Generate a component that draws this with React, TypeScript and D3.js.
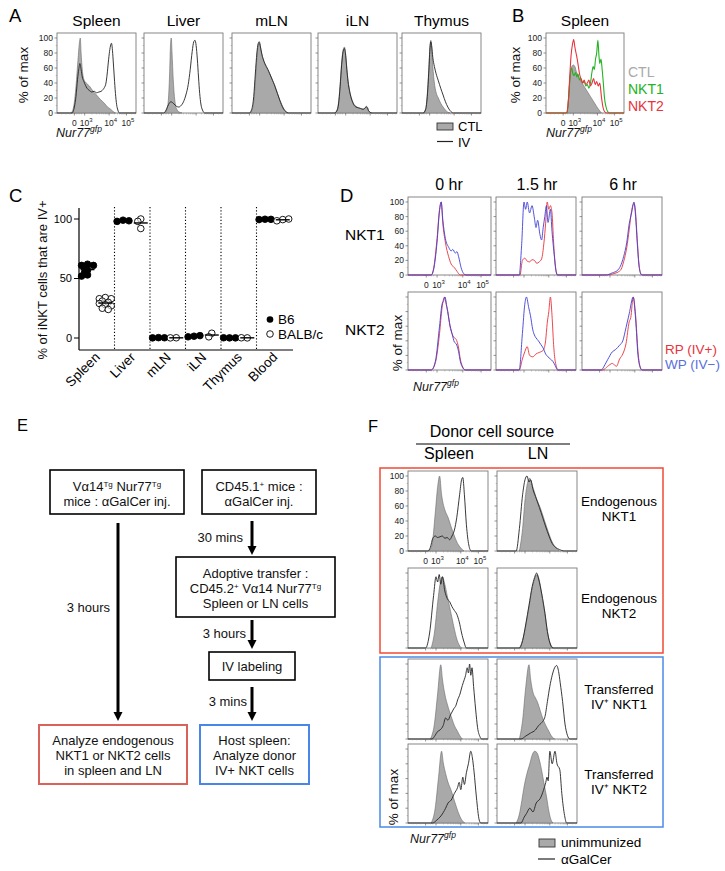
import React from 'react';
import * as d3 from 'd3';

type Pt = [number, number];
const FONT = "'Liberation Sans', Arial, Helvetica, sans-serif";

// ---------------- Panel A data (x: % of axis width, y: % of max) ----------------
const A_TISSUES = ['Spleen', 'Liver', 'mLN', 'iLN', 'Thymus'];
const A_CTL_SPLEEN: Pt[] = [[18,0],[21,8],[24,35],[26.5,70],[28.5,95],[29.5,100],[30.5,80],[32,58],[34,45],[37,40],[41,36],[45,30],[50,24],[55,18],[60,13],[64,8],[68,5],[71,2],[74,0]];
const A_IV_SPLEEN: Pt[] = [[19,0],[22,8],[24,22],[26,45],[27.5,58],[29,66],[30.5,58],[32,48],[34,42],[36,37],[38,33],[41,30],[44,28],[47,29],[50,27],[53,28],[56,29],[58,31],[60,34],[62,40],[63.5,52],[65,68],[66.5,82],[68,91],[69,93],[70,86],[71,72],[72.5,48],[74,26],[75.5,11],[77,4],[79,0]];
const A_CTL_LIVER: Pt[] = [[26,0],[29,5],[31,20],[32.5,55],[33.5,90],[34.5,100],[35.5,80],[37,45],[38.5,22],[40,10],[42,4],[45,1],[48,0]];
const A_IV_LIVER: Pt[] = [[25,0],[28,4],[30,9],[32,13],[34,15],[36,14],[38,12],[41,9],[44,8],[47,10],[50,15],[53,24],[56,38],[58.5,58],[61,82],[63,95],[64.5,97],[66,90],[67.5,72],[69,48],[70.5,26],[72,12],[74,4],[77,0]];
const A_CTL_MLN: Pt[] = [[23,0],[26,6],[28,20],[30,50],[32,80],[33.5,92],[35,93],[36.5,85],[38,76],[40,70],[42,65],[44,60],[46,56],[48,52],[50,47],[52,42],[54,37],[56,31],[58,25],[60,19],[62,14],[64,9],[66,5],[68,2],[71,0]];
const A_IV_MLN: Pt[] = [[22,0],[25,5],[27.5,22],[29.5,52],[31.5,80],[33,92],[34.5,95],[36,88],[37.5,80],[39.5,72],[41.5,66],[43.5,62],[45.5,58],[47.5,53],[49.5,48],[51.5,43],[53.5,38],[55.5,32],[57.5,26],[59.5,20],[61.5,14],[63.5,9],[65.5,5],[68,2],[72,0]];
const A_CTL_ILN: Pt[] = [[21,0],[24,4],[26,14],[28,38],[30,68],[32,85],[33.5,88],[35,78],[36.5,60],[38,44],[40,30],[42,21],[44,15],[46,11],[48,9],[51,7],[54,6],[57,5],[59,6],[61,9],[62.5,8],[64,3],[66,1],[68,0]];
const A_IV_ILN: Pt[] = [[21,0],[24,3],[26,12],[28,35],[30,65],[32,83],[33.5,86],[35,77],[36.5,58],[38,42],[40,29],[42,20],[44,14],[46,10],[48,8],[51,7],[54,6],[57,5],[59,6],[61,8],[62.5,7],[64,3],[66,1],[68,0]];
const A_CTL_THY: Pt[] = [[27,0],[30,6],[32,25],[34,60],[35.5,90],[36.5,97],[37.5,88],[39,62],[41,40],[43,28],[46,20],[49,13],[52,8],[55,4],[58,1],[61,0]];
const A_IV_THY: Pt[] = [[27,0],[30,5],[32,22],[34,57],[35.5,88],[36.5,95],[37.5,90],[39,74],[41,62],[43,53],[46,43],[49,33],[52,24],[55,15],[58,8],[61,3],[65,0]];
const A_CTL = [A_CTL_SPLEEN, A_CTL_LIVER, A_CTL_MLN, A_CTL_ILN, A_CTL_THY];
const A_IV = [A_IV_SPLEEN, A_IV_LIVER, A_IV_MLN, A_IV_ILN, A_IV_THY];

// ---------------- Panel B data ----------------
const B_CTL: Pt[] = [[27,0],[29,20],[31,50],[33,62],[35,64],[37,62],[39,55],[42,48],[45,42],[48,37],[51,32],[54,27],[57,22],[60,17],[63,12],[66,7],[68,4],[71,0]];
const B_NKT1: Pt[] = [[27,0],[29,20],[31,50],[33,60],[34.5,52],[36,50],[38,54],[39.5,48],[41,52],[43,44],[45,46],[47,40],[49,42],[51,36],[53,38],[55,33],[57,40],[59,55],[60.5,62],[62,58],[63.5,72],[65,80],[66.5,97],[68,75],[69,66],[70.5,72],[72,58],[73.5,40],[75,20],[77,8],[79,2],[82,0]];
const B_NKT2: Pt[] = [[26,0],[28,8],[30,40],[32,75],[34,92],[35.5,98],[37,88],[38.5,80],[40,72],[41.5,62],[43,52],[45,45],[47,40],[49,44],[51,38],[53,40],[55,44],[57,36],[59,40],[61,46],[63,38],[65,42],[67,36],[69,40],[71,22],[73,8],[75,2],[78,0]];
const B_LEGEND = ['CTL', 'NKT1', 'NKT2'];

// ---------------- Panel C data ----------------
const C_TISSUES = ['Spleen', 'Liver', 'mLN', 'iLN', 'Thymus', 'Blood'];
const C_B6: number[][] = [
  [62, 61, 61, 59, 57, 55, 53, 52],
  [99, 98, 98.5],
  [0.3, 0.1, 0.2],
  [1.5, 1, 2],
  [0.1, 0.2, 0.1],
  [99.8, 99.5, 99.7],
];
const C_BALB: number[][] = [
  [34, 33, 33, 31, 30, 29, 28, 27, 25, 24],
  [100, 98, 92],
  [0.2, 0.1],
  [4, 1],
  [0.1, 0.2],
  [99.5, 98.5, 100],
];
const C_YTICKS = [0, 50, 100];

// ---------------- Panel D data ----------------
const D_TIMES = ['0 hr', '1.5 hr', '6 hr'];
const D_ROWS = ['NKT1', 'NKT2'];
const D_RP: Pt[][][] = [
  [
    [[28,0],[31,10],[35,50],[38,90],[40,100],[42,70],[45,45],[49,25],[52,15],[56,10],[59,5],[63,0]],
    [[30,0],[33,20],[36,23],[39,19],[42,18],[45,21],[48,20],[51,16],[54,18],[57,22],[60,45],[62,70],[64,100],[66,90],[68,95],[70,85],[72,45],[74,15],[77,0]],
    [[32,0],[40,2],[45,4],[49,8],[52,18],[56,38],[59,62],[62,88],[65,98],[67,85],[69,50],[71,18],[73,3],[75,0]],
  ],
  [
    [[28,0],[33,10],[38,50],[41,85],[44,100],[46,90],[48,80],[50.5,60],[53,50],[55,45],[58,42],[61,30],[63,15],[66,4],[69,0]],
    [[29,0],[33,15],[36,25],[39,32],[42,20],[46,18],[50,22],[54,24],[59,27],[62,40],[64,64],[66,80],[68,100],[70,75],[72,35],[74,12],[78,0]],
    [[26,0],[32,5],[38,9],[43,5],[47,15],[51,22],[55,36],[59,66],[61,72],[64,100],[67,75],[70,25],[73,3],[75,0]],
  ],
];
const D_WP: Pt[][][] = [
  [
    [[28,0],[31,8],[35,45],[38,88],[40,100],[42,75],[45,50],[49,38],[52,33],[54,35],[57,30],[59,32],[61,25],[64,10],[67,2],[70,0]],
    [[29,0],[32,40],[35,100],[37,90],[39,100],[42,85],[45,95],[48,78],[50,65],[52,75],[55,55],[57,48],[59,65],[61,80],[63,95],[65,72],[68,90],[70,60],[73,25],[75,5],[77,0]],
    [[30,0],[38,3],[44,6],[48,12],[52,25],[56,45],[59,70],[62,85],[65,100],[67,80],[69,45],[71,15],[73,3],[75,0]],
  ],
  [
    [[28,0],[33,12],[38,60],[41,90],[43,95],[44.5,100],[47,85],[50,65],[53,50],[56,38],[58,36],[61,25],[63,12],[66,3],[69,0]],
    [[29,0],[33,50],[36,90],[38,100],[41,85],[43,75],[46,55],[48,48],[50,44],[53,40],[56,35],[59,30],[62,22],[65,18],[68,15],[71,12],[74,6],[77,0]],
    [[24,0],[29,8],[32,14],[38,25],[42,28],[47,34],[51,40],[55,58],[59,77],[64,100],[67,70],[70,20],[73,3],[75,0]],
  ],
];
const D_LEGEND = ['RP (IV+)', 'WP (IV\u2212)'];

// ---------------- Panel F data ----------------
const F_COLS = ['Spleen', 'LN'];
const F_ROWS = [['Endogenous', 'NKT1'], ['Endogenous', 'NKT2'], ['Transferred', 'IV\u207A NKT1'], ['Transferred', 'IV\u207A NKT2']];
const F_UNIMM: Pt[][][] = [
  [
    [[26,0],[30,8],[34,50],[37,85],[39.5,100],[42,75],[46,55],[50,45],[54,32],[58,20],[62,10],[66,4],[70,0]],
    [[28,0],[32,30],[35,68],[38,90],[41,97],[44,88],[47,78],[50,68],[54,58],[59,42],[64,26],[69,12],[74,4],[78,0]],
  ],
  [
    [[29,0],[33,20],[37,60],[40,85],[43,95],[46,85],[49,70],[52,55],[55,40],[58,25],[61,12],[64,4],[67,0]],
    [[28,0],[32,10],[36,30],[40,55],[44,80],[48,95],[50,98],[53,90],[56,70],[60,45],[63,22],[66,8],[70,0]],
  ],
  [
    [[28,0],[33,20],[37,60],[41,99],[43,80],[46,60],[49.5,45],[54,30],[58,18],[62,10],[65,4],[68,0]],
    [[28,0],[32,25],[36,70],[40,99],[42,80],[45,62],[48,55],[51,48],[54,38],[57,28],[61,18],[65,10],[68,4],[72,0]],
  ],
  [
    [[29,0],[34,20],[38,60],[42,97],[44,82],[47,67],[50,55],[54,44],[58,30],[61,20],[64,11],[68,3],[71,0]],
    [[24,0],[28,12],[31,30],[34,50],[37,65],[41,80],[44,92],[47,97],[50,95],[53,85],[56,70],[58.5,55],[62,35],[65,15],[68,3],[70,0]],
  ],
];
const F_AGAL: Pt[][][] = [
  [
    [[25,0],[28,5],[31,17],[34,20],[37,18],[40,19],[43,20],[46,17],[49,18],[52,15],[55,20],[58,28],[61,45],[64.5,75],[67,95],[68.5,98],[70.5,75],[73,35],[76,8],[79,0]],
    [[24,0],[28,30],[32,75],[35,95],[37.5,100],[40,92],[42,95],[45,82],[49,70],[53,58],[57,45],[61,32],[65,20],[69,10],[73,5],[78,2],[84,0]],
  ],
  [
    [[22,0],[27,20],[32,70],[35,95],[37,88],[39,98],[41,85],[43,95],[46,76],[49,66],[52,62],[55,55],[58,50],[61,45],[64,35],[67,20],[70,8],[73,0]],
    [[28,0],[32,10],[36,32],[40,57],[44,82],[47,94],[49.5,100],[52,92],[56,72],[60,46],[63,22],[66,7],[70,0]],
  ],
  [
    [[30,0],[34,5],[37,10],[40,12],[44,18],[47,28],[50,25],[53,32],[55,36],[57,40],[60,45],[62,52],[65,60],[67,68],[69,75],[72,85],[74,95],[75.5,88],[77,100],[78.5,85],[80,95],[82,70],[84.5,40],[87,15],[90,3],[92,0]],
    [[30,0],[36,4],[42,8],[48,12],[52,18],[56,22],[60,30],[63,50],[66,70],[69,85],[72,95],[74.5,98],[77,90],[79,75],[82,50],[85,20],[88,5],[91,0]],
  ],
  [
    [[31,0],[36,4],[40,8],[44,14],[47,20],[50,27],[54,31],[58,40],[62,48],[64,55],[66,45],[68.5,62],[70.5,52],[73,68],[75.5,80],[78.5,97],[80.5,88],[82.5,70],[85.5,35],[89,4],[91,0]],
    [[30,0],[34,8],[37,13],[41,20],[45,15],[49,27],[54,33],[58,44],[61,55],[62.5,62],[64,57],[66,97],[69,80],[72.5,97],[75,80],[78.5,72],[81,40],[84.5,10],[87,0]],
  ],
];

// ---------------- axis definition for flow histograms ----------------
const X_TICKS = [22, 35, 66, 88];
const X_TICK_EXP = ['', '3', '4', '5'];
const Y_TICKS = [0, 20, 40, 60, 80, 100];

type Curve = { pts: Pt[]; kind: 'fill' | 'line'; color: string; sw?: number };

function minorXTicks(): number[] {
  const out: number[] = [6, 11, 16, 25, 28, 31];
  for (let k = 2; k <= 9; k++) out.push(35 + 31 * Math.log10(k));
  for (let k = 2; k <= 9; k++) out.push(66 + 22 * Math.log10(k));
  for (let k = 2; k <= 3; k++) out.push(88 + 22 * Math.log10(k));
  return out;
}
const X_MINOR = minorXTicks();

function Histo(props: { x: number; y: number; w: number; h: number; curves: Curve[]; yLabels?: boolean; xLabels?: boolean }) {
  const { x, y, w, h, curves, yLabels, xLabels } = props;
  const sx = d3.scaleLinear().domain([0, 100]).range([x, x + w]);
  const sy = d3.scaleLinear().domain([0, 100]).range([y + h, y + 5]);
  const area = d3.area<Pt>().x(d => sx(d[0])).y0(sy(0)).y1(d => sy(d[1])).curve(d3.curveMonotoneX);
  const line = d3.line<Pt>().x(d => sx(d[0])).y(d => sy(d[1])).curve(d3.curveMonotoneX);
  return (
    <g>
      <rect x={x} y={y} width={w} height={h} fill="white" stroke="#7a7a7a" strokeWidth={0.9} />
      {curves.map((c, i) =>
        c.kind === 'fill' ? (
          <path key={i} d={area(c.pts) || ''} fill={c.color} stroke="#6a6a6a" strokeWidth={0.6} />
        ) : (
          <path key={i} d={line([[0, 0], ...c.pts, [100, 0]]) || ''} fill="none" stroke={c.color} strokeWidth={c.sw ?? 0.9} strokeLinejoin="round" />
        )
      )}
      {Y_TICKS.map(t => (
        <line key={'yt' + t} x1={x - 2.5} x2={x} y1={sy(t)} y2={sy(t)} stroke="#666" strokeWidth={0.7} />
      ))}
      {d3.range(10, 100, 20).map(t => (
        <line key={'ym' + t} x1={x - 1.3} x2={x} y1={sy(t)} y2={sy(t)} stroke="#888" strokeWidth={0.5} />
      ))}
      {X_TICKS.map(t => (
        <line key={'xt' + t} x1={sx(t)} x2={sx(t)} y1={y + h} y2={y + h + 2.5} stroke="#666" strokeWidth={0.7} />
      ))}
      {X_MINOR.map((t, i) => (
        <line key={'xm' + i} x1={sx(t)} x2={sx(t)} y1={y + h} y2={y + h + 1.4} stroke="#888" strokeWidth={0.5} />
      ))}
      {yLabels &&
        Y_TICKS.map(t => (
          <text key={'yl' + t} x={x - 4} y={sy(t) + 3} fontSize={8.5} textAnchor="end" fill="#222">
            {t}
          </text>
        ))}
      {xLabels &&
        X_TICKS.map((t, i) => (
          <text key={'xl' + t} x={sx(t) + (i ? 1.5 : 0)} y={y + h + 12.5} fontSize={8.5} textAnchor="middle" fill="#222">
            {i === 0 ? '0' : '10'}
            {X_TICK_EXP[i] && (
              <tspan dy={-4} fontSize={6}>
                {X_TICK_EXP[i]}
              </tspan>
            )}
          </text>
        ))}
    </g>
  );
}

function Nur77(props: { x: number; y: number }) {
  return (
    <text x={props.x} y={props.y} fontSize={12.5} fontStyle="italic" fill="#111">
      Nur77
      <tspan dy={-5} fontSize={8.5}>gfp</tspan>
    </text>
  );
}

function YLab(props: { x: number; y: number; text: string; size?: number }) {
  return (
    <text transform={`translate(${props.x},${props.y}) rotate(-90)`} textAnchor="middle" fontSize={props.size ?? 13.5} fill="#111">
      {props.text}
    </text>
  );
}

function PanelLetter(props: { x: number; y: number; t: string; size?: number }) {
  return (
    <text x={props.x} y={props.y} fontSize={props.size ?? 18.5} fill="#000">
      {props.t}
    </text>
  );
}

// ---------------- Panel C ----------------
function swarm(vals: number[], sy: (v: number) => number, r: number) {
  const placed: { y: number; dx: number }[] = [];
  const cands = [0, -1, 1, -2, 2, -3, 3].map(k => k * r * 0.9);
  return vals.map(v => {
    const py = sy(v);
    let chosen = cands[cands.length - 1];
    for (const c of cands) {
      if (placed.every(p => Math.hypot(p.dx - c, p.y - py) >= r * 1.1)) {
        chosen = c;
        break;
      }
    }
    placed.push({ y: py, dx: chosen });
    return { v, dx: chosen };
  });
}

function PanelC() {
  const sy = d3.scaleLinear().domain([0, 100]).range([338, 219]);
  const sx = d3.scaleBand<string>().domain(C_TISSUES).range([79, 292]).padding(0);
  const bw = sx.bandwidth();
  const r = 3.3;
  const groups = (data: number[][], frac: number, filled: boolean) =>
    data.map((vals, i) => {
      const cx = (sx(C_TISSUES[i]) as number) + bw * frac;
      const mean = d3.mean(vals) as number;
      return (
        <g key={(filled ? 'f' : 'o') + i}>
          {swarm(vals, sy, r).map((p, j) => (
            <circle key={j} cx={cx + p.dx} cy={sy(p.v)} r={r} fill={filled ? '#000' : 'white'} fillOpacity={filled ? 1 : 0.6} stroke="#000" strokeWidth={0.9} />
          ))}
          <line x1={cx - 7} x2={cx + 7} y1={sy(mean)} y2={sy(mean)} stroke="#000" strokeWidth={1.4} />
        </g>
      );
    });
  return (
    <g>
      {C_TISSUES.slice(1).map(t => (
        <line key={'d' + t} x1={sx(t) as number} x2={sx(t) as number} y1={207} y2={350} stroke="#000" strokeWidth={1.1} strokeDasharray="1.2,2" />
      ))}
      <line x1={79} x2={79} y1={208} y2={350} stroke="#000" strokeWidth={1.2} />
      <line x1={79} x2={293} y1={350} y2={350} stroke="#000" strokeWidth={1.2} />
      {C_YTICKS.map(t => (
        <g key={'ct' + t}>
          <line x1={74} x2={79} y1={sy(t)} y2={sy(t)} stroke="#000" strokeWidth={1} />
          <text x={72} y={sy(t) + 3.8} fontSize={11} textAnchor="end">
            {t}
          </text>
        </g>
      ))}
      {groups(C_B6, 0.24, true)}
      {groups(C_BALB, 0.74, false)}
      {C_TISSUES.map(t => {
        const lx = (sx(t) as number) + bw / 2 + 4;
        const ly = 358;
        return (
          <g key={'cl' + t} transform={`translate(${lx} ${ly}) rotate(-45)`}>
            <text x={0} y={0} textAnchor="end" fontSize={13.5}>
              {t}
            </text>
          </g>
        );
      })}
      <YLab x={47} y={280} text="% of iNKT cells that are IV+" size={13} />
      <circle cx={270} cy={319.5} r={r} fill="#000" />
      <text x={278} y={324} fontSize={13.5}>B6</text>
      <circle cx={270} cy={334} r={r} fill="white" stroke="#000" strokeWidth={0.9} />
      <text x={278} y={338.5} fontSize={13.5}>BALB/c</text>
    </g>
  );
}

// ---------------- Panel E ----------------
function Arrow(props: { x: number; y1: number; y2: number }) {
  const { x, y1, y2 } = props;
  return (
    <g>
      <line x1={x} x2={x} y1={y1} y2={y2 - 8} stroke="#000" strokeWidth={3} />
      <path d={`M${x - 4.5},${y2 - 9} L${x + 4.5},${y2 - 9} L${x},${y2} Z`} fill="#000" />
    </g>
  );
}

function Sup(props: { t: string }) {
  return (
    <tspan dy={-4.5} fontSize={8}>
      {props.t}
    </tspan>
  );
}

function PanelE() {
  const fs = 13;
  return (
    <g fontSize={fs} fill="#111">
      <PanelLetter x={17} y={431} t="E" size={16.5} />
      <rect x={50} y={470} width={134} height={44} fill="white" stroke="#000" strokeWidth={1.6} />
      <text x={117} y={491} textAnchor="middle">
        {'V\u03B114'}<Sup t="Tg" /><tspan dy={4.5}> Nur77</tspan><Sup t="Tg" />
      </text>
      <text x={117} y={506} textAnchor="middle">{'mice : \u03B1GalCer inj.'}</text>
      <rect x={202} y={470} width={114} height={44} fill="white" stroke="#000" strokeWidth={1.6} />
      <text x={259} y={491} textAnchor="middle">
        CD45.1<Sup t="+" /><tspan dy={4.5}> mice :</tspan>
      </text>
      <text x={259} y={506} textAnchor="middle">{'\u03B1GalCer inj.'}</text>
      <Arrow x={118} y1={523} y2={721} />
      <text x={110} y={612} textAnchor="end">3 hours</text>
      <Arrow x={252} y1={521} y2={555} />
      <text x={243} y={542} textAnchor="end">30 mins</text>
      <rect x={176} y={557} width={159} height={60} fill="white" stroke="#000" strokeWidth={1.6} />
      <text x={255.5} y={578} textAnchor="middle">Adoptive transfer :</text>
      <text x={255.5} y={593} textAnchor="middle">
        CD45.2<Sup t="+" /><tspan dy={4.5}>{' V\u03B114 Nur77'}</tspan><Sup t="Tg" />
      </text>
      <text x={255.5} y={608} textAnchor="middle">Spleen or LN cells</text>
      <Arrow x={252} y1={620} y2={649} />
      <text x={246} y={638} textAnchor="end">3 hours</text>
      <rect x={209} y={652} width={86} height={28} fill="white" stroke="#000" strokeWidth={1.6} />
      <text x={252} y={671} textAnchor="middle">IV labeling</text>
      <Arrow x={252} y1={687} y2={721} />
      <text x={247} y={706} textAnchor="end">3 mins</text>
      <rect x={39} y={725} width={148} height={59} fill="white" stroke="#d9625a" strokeWidth={2} />
      <text x={113} y={745} textAnchor="middle">Analyze endogenous</text>
      <text x={113} y={760} textAnchor="middle">NKT1 or NKT2 cells</text>
      <text x={113} y={775} textAnchor="middle">in spleen and LN</text>
      <rect x={200} y={725} width={109} height={59} fill="white" stroke="#4a86e8" strokeWidth={2} />
      <text x={254.5} y={745} textAnchor="middle">Host spleen:</text>
      <text x={254.5} y={760} textAnchor="middle">Analyze donor</text>
      <text x={254.5} y={775} textAnchor="middle">IV+ NKT cells</text>
    </g>
  );
}

// ---------------- App ----------------
export default function App() {
  const aLefts = [57, 144, 232, 318, 402];
  const aW = 79;
  const dLefts = [408, 496, 582];
  const dTops = [197, 292];
  const fLefts = [408, 497];
  const fTops = [471, 568, 659, 744];
  const GREY = '#a9a9a9';
  const RED = '#e8333b';
  const BLUE = '#3f3fd6';
  const GREEN = '#21b321';
  return (
    <svg width={725} height={871} style={{ position: 'absolute', left: 0, top: 0, background: 'white' }} fontFamily={FONT}>
      <rect x={0} y={0} width={725} height={871} fill="white" />
      {/* Panel A */}
      <PanelLetter x={9} y={22} t="A" />
      {A_TISSUES.map((t, i) => (
        <g key={'a' + t}>
          <text x={aLefts[i] + aW / 2} y={26} textAnchor="middle" fontSize={15.5}>
            {t}
          </text>
          <Histo
            x={aLefts[i]}
            y={33}
            w={aW}
            h={80}
            yLabels={i === 0}
            xLabels={i === 0}
            curves={[
              { pts: A_CTL[i], kind: 'fill', color: GREY },
              { pts: A_IV[i], kind: 'line', color: '#222' },
            ]}
          />
        </g>
      ))}
      <YLab x={28} y={75} text="% of max" />
      <Nur77 x={56} y={137} />
      <rect x={437} y={123} width={16} height={7} fill={GREY} stroke="#333" strokeWidth={0.9} />
      <text x={458} y={131} fontSize={13}>CTL</text>
      <line x1={437} x2={453} y1={141.5} y2={141.5} stroke="#222" strokeWidth={1.2} />
      <text x={458} y={146.5} fontSize={13}>IV</text>

      {/* Panel B */}
      <PanelLetter x={512} y={22} t="B" />
      <text x={585} y={26} textAnchor="middle" fontSize={15.5}>Spleen</text>
      <Histo
        x={546}
        y={33}
        w={78}
        h={80}
        yLabels
        xLabels
        curves={[
          { pts: B_CTL, kind: 'fill', color: GREY },
          { pts: B_NKT1, kind: 'line', color: GREEN, sw: 1.1 },
          { pts: B_NKT2, kind: 'line', color: RED, sw: 1.1 },
        ]}
      />
      <YLab x={520} y={75} text="% of max" />
      <Nur77 x={546} y={137} />
      {B_LEGEND.map((t, i) => (
        <text key={'bl' + t} x={628} y={77 + i * 17} fontSize={14} fill={[GREY, GREEN, RED][i]}>
          {t}
        </text>
      ))}

      {/* Panel C */}
      <PanelLetter x={9} y={202} t="C" />
      <PanelC />

      {/* Panel D */}
      <PanelLetter x={340} y={202} t="D" />
      {D_TIMES.map((t, j) => (
        <text key={'dt' + t} x={dLefts[j] + 41} y={190} textAnchor="middle" fontSize={16}>
          {t}
        </text>
      ))}
      {D_ROWS.map((rname, r) => (
        <g key={'dr' + rname}>
          <text x={345} y={dTops[r] + 43} fontSize={15.5}>
            {rname}
          </text>
          {D_TIMES.map((t, j) => (
            <Histo
              key={'dh' + r + j}
              x={dLefts[j]}
              y={dTops[r]}
              w={j === 0 ? 83 : 80}
              h={78}
              yLabels={r === 0 && j === 0}
              xLabels={r === 0 && j === 0}
              curves={[
                { pts: D_RP[r][j], kind: 'line', color: RED, sw: 0.9 },
                { pts: D_WP[r][j], kind: 'line', color: BLUE, sw: 0.9 },
              ]}
            />
          ))}
        </g>
      ))}
      <YLab x={402} y={343} text="% of max" />
      <Nur77 x={413} y={391} />
      <text x={665} y={354} fontSize={13.5} fill={RED}>{D_LEGEND[0]}</text>
      <text x={665} y={369} fontSize={13.5} fill="#5a6ee0">{D_LEGEND[1]}</text>

      {/* Panel E */}
      <PanelE />

      {/* Panel F */}
      <PanelLetter x={368} y={432} t="F" size={16.5} />
      <text x={492} y={437} textAnchor="middle" fontSize={16}>Donor cell source</text>
      <line x1={416} x2={570} y1={444} y2={444} stroke="#000" strokeWidth={1.2} />
      {F_COLS.map((c, j) => (
        <text key={'fc' + c} x={fLefts[j] + 41} y={459} textAnchor="middle" fontSize={16}>
          {c}
        </text>
      ))}
      <rect x={380} y={468} width={283} height={185} fill="none" stroke="#f04a36" strokeWidth={1.5} />
      <rect x={380} y={657} width={283} height={170} fill="none" stroke="#4a8ae8" strokeWidth={1.5} />
      {F_ROWS.map((rl, r) => (
        <g key={'fr' + r}>
          {F_COLS.map((c, j) => (
            <Histo
              key={'fh' + r + j}
              x={fLefts[j]}
              y={fTops[r]}
              w={80}
              h={r === 3 ? 79 : 80}
              yLabels={r === 0 && j === 0}
              xLabels={r === 0 && j === 0}
              curves={[
                { pts: F_UNIMM[r][j], kind: 'fill', color: GREY },
                { pts: F_AGAL[r][j], kind: 'line', color: '#222' },
              ]}
            />
          ))}
          <text x={619} y={fTops[r] + 35} textAnchor="middle" fontSize={13.5}>
            {rl[0]}
          </text>
          <text x={619} y={fTops[r] + 50} textAnchor="middle" fontSize={13.5}>
            {rl[1]}
          </text>
        </g>
      ))}
      <YLab x={398} y={797} text="% of max" />
      <Nur77 x={410} y={843} />
      <rect x={539} y={839} width={16} height={8} fill={GREY} stroke="#333" strokeWidth={0.9} />
      <text x={561} y={846.5} fontSize={13.5}>unimmunized</text>
      <line x1={538} x2={555} y1={859} y2={859} stroke="#222" strokeWidth={1.2} />
      <text x={561} y={864} fontSize={13.5}>{'\u03B1GalCer'}</text>
    </svg>
  );
}
